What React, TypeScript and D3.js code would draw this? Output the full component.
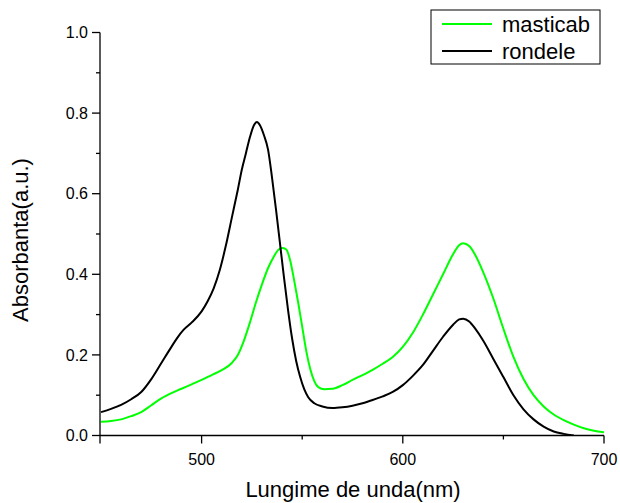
import React from "react";
import * as d3 from "d3";

// Absorption spectra, wavelength (nm) vs absorbance (a.u.)
const rondeleWl = [450, 455, 460, 465, 470, 475, 480, 485, 488, 491, 495, 500, 503, 506, 509, 512, 515, 518, 520, 522, 524, 526, 527.5, 529, 531, 533, 535, 537, 539, 541, 543, 545, 547, 549, 551, 553, 556, 560, 565, 570, 575, 580, 585, 590, 595, 600, 605, 610, 615, 620, 625, 628, 630, 633, 636, 640, 645, 650, 655, 660, 665, 670, 675, 680, 685];
const rondeleAbs = [0.058, 0.066, 0.076, 0.09, 0.108, 0.14, 0.18, 0.22, 0.243, 0.262, 0.28, 0.308, 0.333, 0.365, 0.41, 0.47, 0.54, 0.61, 0.66, 0.7, 0.74, 0.77, 0.778, 0.77, 0.745, 0.71, 0.64, 0.56, 0.475, 0.39, 0.31, 0.24, 0.185, 0.145, 0.115, 0.095, 0.08, 0.072, 0.068, 0.07, 0.074, 0.08, 0.088, 0.097, 0.108, 0.125, 0.148, 0.175, 0.21, 0.245, 0.275, 0.288, 0.29, 0.283, 0.265, 0.235, 0.19, 0.145, 0.1, 0.065, 0.04, 0.022, 0.01, 0.004, 0.0];

const masticabWl = [450, 455, 460, 465, 470, 475, 480, 485, 490, 495, 500, 505, 510, 515, 518, 521, 524, 527, 530, 533, 536, 538, 540, 542, 544, 546, 548, 550, 552, 554, 556, 558, 561, 565, 570, 575, 580, 585, 590, 595, 600, 605, 610, 615, 620, 625, 628, 630, 633, 636, 640, 645, 650, 655, 660, 665, 670, 675, 680, 685, 690, 695, 700];
const masticabAbs = [0.034, 0.036, 0.04, 0.048, 0.058, 0.075, 0.092, 0.105, 0.116, 0.127, 0.138, 0.15, 0.162, 0.18, 0.2, 0.235, 0.28, 0.33, 0.375, 0.415, 0.445, 0.46, 0.465, 0.462, 0.435, 0.385, 0.33, 0.27, 0.21, 0.165, 0.135, 0.12, 0.115, 0.116, 0.125, 0.138, 0.15, 0.163, 0.178, 0.195, 0.22, 0.255, 0.3, 0.35, 0.4, 0.45, 0.472, 0.477, 0.47, 0.448, 0.405, 0.34, 0.265, 0.195, 0.14, 0.1, 0.072, 0.052, 0.038, 0.027, 0.018, 0.012, 0.008];

const xMajorTicks = [500, 600, 700];
const xMinorTicks = [550, 650];
const yMajorTicks = [0, 0.2, 0.4, 0.6, 0.8, 1.0];
const yMinorTicks = [0.1, 0.3, 0.5, 0.7, 0.9];

const seriesNames = ["masticab", "rondele"];
const seriesColors = ["#00ff00", "#000000"];

const W = 620;
const H = 503;

export default function App() {
  const x = d3.scaleLinear().domain([449.5, 700]).range([100, 604]);
  const y = d3.scaleLinear().domain([0, 1]).range([435.5, 32.5]);

  const line = d3
    .line<[number, number]>()
    .x((d) => x(d[0]))
    .y((d) => y(d[1]))
    .curve(d3.curveMonotoneX);

  const series = [
    masticabWl.map((w, i) => [w, masticabAbs[i]] as [number, number]),
    rondeleWl.map((w, i) => [w, rondeleAbs[i]] as [number, number]),
  ];

  const font = "'Liberation Sans', Arial, sans-serif";
  const x0 = x.range()[0];
  const x1 = x.range()[1];
  const y0 = y.range()[0];
  const y1 = y.range()[1];

  return (
    <svg
      width={W}
      height={H}
      style={{ position: "absolute", left: 0, top: 0, background: "#fff" }}
      fontFamily={font}
    >
      <defs>
        <clipPath id="plotClip">
          <rect x={x0} y={y1} width={x1 - x0} height={y0 - y1} />
        </clipPath>
      </defs>

      <g clipPath="url(#plotClip)">
        {series.map((s, i) => (
          <path
            key={seriesNames[i]}
            d={line(s) ?? ""}
            fill="none"
            stroke={seriesColors[i]}
            strokeWidth={2}
            strokeLinejoin="round"
          />
        ))}
      </g>

      {/* axes */}
      <g stroke="#000" strokeWidth={1.3} fill="none">
        <line x1={x0} x2={x0} y1={y1} y2={y0} />
        <line x1={x0} x2={x1} y1={y0} y2={y0} />
        {xMajorTicks.map((t) => (
          <line key={"xM" + t} x1={x(t)} x2={x(t)} y1={y0} y2={y0 + 8} />
        ))}
        {xMinorTicks.map((t) => (
          <line key={"xm" + t} x1={x(t)} x2={x(t)} y1={y0} y2={y0 + 4} />
        ))}
        <line x1={x0} x2={x0} y1={y0} y2={y0 + 8} />
        {yMajorTicks.map((t) => (
          <line key={"yM" + t} x1={x0 - 8} x2={x0} y1={y(t)} y2={y(t)} />
        ))}
        {yMinorTicks.map((t) => (
          <line key={"ym" + t} x1={x0 - 4} x2={x0} y1={y(t)} y2={y(t)} />
        ))}
      </g>

      {xMajorTicks.map((t) => (
        <text key={"xl" + t} x={x(t)} y={y0 + 29} textAnchor="middle" fontSize={16} fill="#000">
          {t}
        </text>
      ))}
      {yMajorTicks.map((t) => (
        <text
          key={"yl" + t}
          x={x0 - 12}
          y={y(t)}
          dy="0.35em"
          textAnchor="end"
          fontSize={16}
          fill="#000"
        >
          {d3.format(".1f")(t)}
        </text>
      ))}

      <text x={353} y={497} textAnchor="middle" fontSize={22} fill="#000">
        Lungime de unda(nm)
      </text>
      <text
        transform={`translate(28, 240) rotate(-90)`}
        textAnchor="middle"
        fontSize={22}
        fill="#000"
      >
        Absorbanta(a.u.)
      </text>

      {/* legend */}
      <rect x={431} y={10} width={169} height={54} fill="#fff" stroke="#000" strokeWidth={1} />
      {seriesNames.map((name, i) => (
        <g key={"lg" + name}>
          <line
            x1={442}
            x2={492}
            y1={24 + i * 27}
            y2={24 + i * 27}
            stroke={seriesColors[i]}
            strokeWidth={2}
          />
          <text x={502} y={24 + i * 27} dy="0.35em" fontSize={22} fill="#000">
            {name}
          </text>
        </g>
      ))}
    </svg>
  );
}
